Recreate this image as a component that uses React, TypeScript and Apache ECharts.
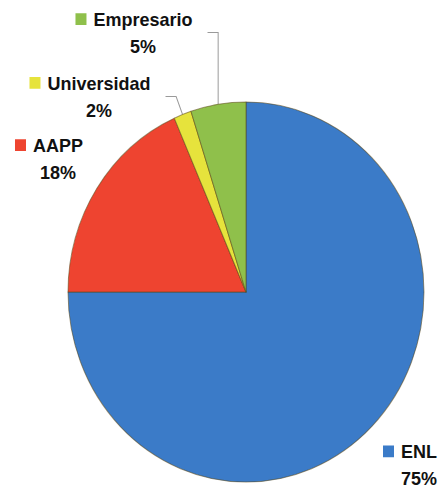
import React, { useEffect, useRef } from 'react';
import * as echarts from 'echarts';

// ---- data ----
const categories = ['ENL', 'AAPP', 'Universidad', 'Empresario'];
const values = [75, 18.4, 1.6, 5];
const colors = ['#3b7bc8', '#ee4430', '#e6e33c', '#8fc04b'];

// ---- layout (chart coordinates, before vertical stretch) ----
const SCALE_Y = 1.0674;
const CHART_W = 442;
const CHART_H = 458;
const LINE_H = 25.3;
const labelAnchors = [
  { x: 419, y: 410.2 },
  { x: 58, y: 123.2 },
  { x: 99, y: 65.1 },
  { x: 143, y: 5.2 },
];
const leaderStyle = ['none', 'none', 'radial', 'vertical'];

const px = (q: any) => (Array.isArray(q) ? q[0] : q.x);
const py = (q: any) => (Array.isArray(q) ? q[1] : q.y);

export default function App() {
  const ref = useRef<HTMLDivElement>(null);
  useEffect(() => {
    if (!ref.current) return;
    const chart = echarts.init(ref.current, undefined, { renderer: 'svg' });
    const font = '"Liberation Sans", Arial, sans-serif';
    const rich: any = {
      g: { width: 7 },
      sqh: { width: 11, height: 11 },
      n: { fontSize: 18, fontWeight: 'bold', color: '#111', fontFamily: font, lineHeight: LINE_H },
      p: { fontSize: 18, fontWeight: 'bold', color: '#111', fontFamily: font, lineHeight: LINE_H },
    };
    colors.forEach((c, i) => {
      rich['sq' + i] = { width: 11, height: 11, backgroundColor: c };
    });
    const data = categories.map((name, i) => ({
      name,
      value: values[i],
      itemStyle: { color: colors[i] },
      labelLine: { show: leaderStyle[i] !== 'none' },
    }));
    chart.setOption({
      animation: false,
      backgroundColor: '#ffffff',
      series: [
        {
          type: 'pie',
          center: [246, 273.6],
          radius: 178,
          startAngle: 90,
          clockwise: true,
          avoidLabelOverlap: false,
          emphasis: { disabled: true },
          itemStyle: { borderColor: 'rgba(90,70,20,0.55)', borderWidth: 1 },
          label: {
            show: true,
            position: 'outside',
            lineHeight: LINE_H,
            formatter: (p: any) =>
              `{sq${p.dataIndex}|}{g|}{n|${p.name}}{g|}{sqh|}\n{p|${Math.round(p.percent)}%}`,
            rich,
          },
          labelLine: {
            show: true,
            length: 12,
            length2: 10,
            lineStyle: { color: '#9a9a9a', width: 1 },
          },
          labelLayout: (p: any) => {
            const i = p.dataIndex;
            const a = labelAnchors[i];
            const out: any = { x: a.x, y: a.y, align: 'center', verticalAlign: 'top' };
            const pts = p.labelLinePoints;
            if (pts && pts.length >= 2 && leaderStyle[i] !== 'none') {
              const yMid = a.y + LINE_H;
              const right = a.x + p.labelRect.width / 2 - 3;
              const x0 = px(pts[0]);
              const y0 = py(pts[0]);
              let p1: number[];
              if (leaderStyle[i] === 'vertical') {
                p1 = [x0, yMid];
              } else {
                const dx = px(pts[1]) - x0;
                const dy = py(pts[1]) - y0;
                const t = dy !== 0 ? (yMid - y0) / dy : 1;
                p1 = [x0 + t * dx, yMid];
              }
              out.labelLinePoints = [[x0, y0], p1, [right, yMid]];
            }
            return out;
          },
          data,
        },
      ],
    });
    return () => chart.dispose();
  }, []);
  return (
    <div
      ref={ref}
      style={{
        position: 'absolute',
        left: 0,
        top: 0,
        width: CHART_W,
        height: CHART_H,
        transform: `scaleY(${SCALE_Y})`,
        transformOrigin: '0 0',
        background: '#fff',
      }}
    />
  );
}
